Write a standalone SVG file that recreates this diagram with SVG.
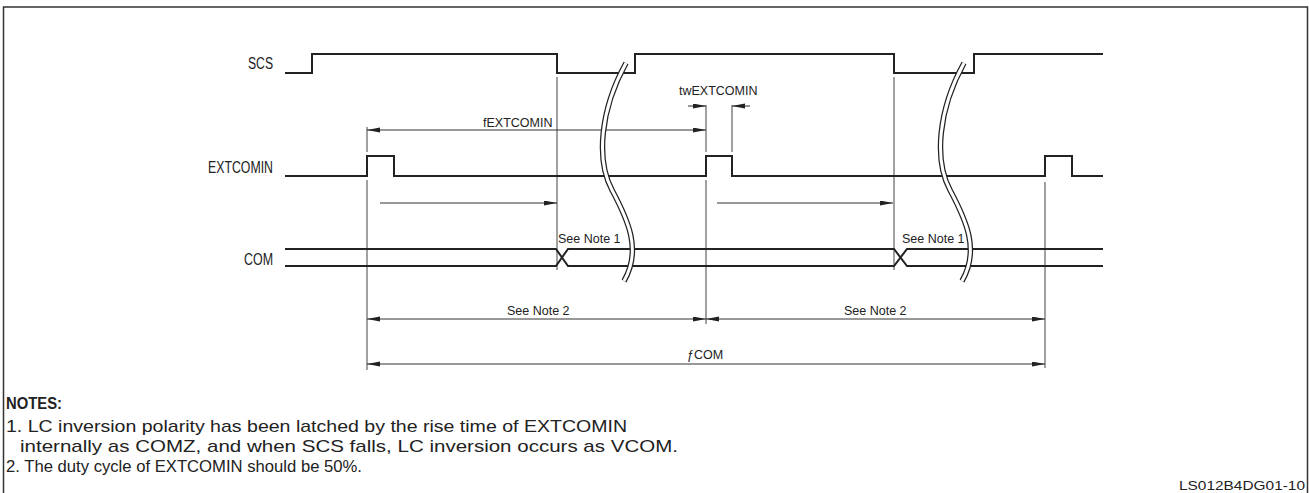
<svg xmlns="http://www.w3.org/2000/svg" width="1309" height="493" viewBox="0 0 1309 493">
<style>
text{font-family:"Liberation Sans",Arial,sans-serif;fill:#222}
.lbl{font-size:16px}
.sm{font-size:12.5px}
.note{font-size:17px}
.sig{fill:none;stroke:#222;stroke-width:2}
.ext{fill:none;stroke:#444;stroke-width:1}
.dim{fill:none;stroke:#333;stroke-width:1}
.brk1{fill:none;stroke:#222;stroke-width:5.5}
.brk2{fill:none;stroke:#fff;stroke-width:3}
</style>
<defs>
<marker id="ar" markerUnits="userSpaceOnUse" markerWidth="14" markerHeight="6" refX="13" refY="2.5" orient="auto-start-reverse">
<path d="M0,0 L13,2.5 L0,5 z" fill="#222"/>
</marker>
</defs>
<rect x="3.5" y="7" width="1304" height="495" fill="none" stroke="#333" stroke-width="1.5"/>

<g id="labels">
<text class="lbl" x="273" y="69" text-anchor="end" textLength="25" lengthAdjust="spacingAndGlyphs">SCS</text>
<text class="lbl" x="273" y="173" text-anchor="end" textLength="65" lengthAdjust="spacingAndGlyphs">EXTCOMIN</text>
<text class="lbl" x="273" y="265" text-anchor="end" textLength="29" lengthAdjust="spacingAndGlyphs">COM</text>
</g>

<g id="extension-lines">
<path class="ext" d="M367,127 V152 M367,180 V370"/>
<path class="ext" d="M557,77 V270"/>
<path class="ext" d="M706,105 V152 M706,180 V324"/>
<path class="ext" d="M732,105 V152"/>
<path class="ext" d="M894,77 V270"/>
<path class="ext" d="M1045,182 V368"/>
</g>

<g id="SCS">
<polyline class="sig" points="285,73 312,73 312,54 557,54 557,73 635,73 635,54 894,54 894,73 974,73 974,54 1103,54"/>
</g>
<g id="EXTCOMIN">
<polyline class="sig" points="285,176 367,176 367,156 394,156 394,176 706,176 706,156 732,156 732,176 1045,176 1045,156 1072,156 1072,176 1103,176"/>
</g>
<g id="COM">
<path class="sig" d="M285,249 H556 L568,266 H894 L907,249 H1103"/>
<path class="sig" d="M285,266 H556 L568,249 H894 L907,266 H1103"/>
</g>

<g id="connectors">
<line class="dim" x1="367" y1="130" x2="706" y2="130" marker-start="url(#ar)" marker-end="url(#ar)"/>
<line class="dim" x1="688" y1="106" x2="706" y2="106" marker-end="url(#ar)"/>
<line class="dim" x1="750" y1="106" x2="732" y2="106" marker-end="url(#ar)"/>
<line class="dim" x1="380" y1="203" x2="557" y2="203" marker-end="url(#ar)"/>
<line class="dim" x1="717" y1="203" x2="893" y2="203" marker-end="url(#ar)"/>
<line class="dim" x1="367" y1="319" x2="706" y2="319" marker-start="url(#ar)" marker-end="url(#ar)"/>
<line class="dim" x1="706" y1="319" x2="1045" y2="319" marker-start="url(#ar)" marker-end="url(#ar)"/>
<line class="dim" x1="367" y1="364" x2="1045" y2="364" marker-start="url(#ar)" marker-end="url(#ar)"/>
</g>

<g id="breaks">
<path class="brk1" d="M626,63 C600,110 596,160 612,190 S642,250 624,281"/>
<path class="brk2" d="M626,63 C600,110 596,160 612,190 S642,250 624,281"/>
<path class="brk1" d="M964,63 C938,110 934,160 950,190 S980,250 962,281"/>
<path class="brk2" d="M964,63 C938,110 934,160 950,190 S980,250 962,281"/>
</g>

<g id="dim-labels">
<text class="sm" x="483" y="127">fEXTCOMIN</text>
<text class="sm" x="679" y="95">twEXTCOMIN</text>
<text class="sm" x="558" y="243">See Note 1</text>
<text class="sm" x="902" y="243">See Note 1</text>
<text class="sm" x="507" y="315">See Note 2</text>
<text class="sm" x="844" y="315">See Note 2</text>
<text class="sm" x="687" y="359">ƒCOM</text>
</g>

<g id="notes">
<text class="note" x="6" y="409" font-weight="bold" textLength="56" lengthAdjust="spacingAndGlyphs">NOTES:</text>
<text class="note" x="6" y="432" textLength="621" lengthAdjust="spacingAndGlyphs">1. LC inversion polarity has been latched by the rise time of EXTCOMIN</text>
<text class="note" x="20" y="452" textLength="658" lengthAdjust="spacingAndGlyphs">internally as COMZ, and when SCS falls, LC inversion occurs as VCOM.</text>
<text class="note" x="6" y="472" textLength="356" lengthAdjust="spacingAndGlyphs">2. The duty cycle of EXTCOMIN should be 50%.</text>
<text class="sm" x="1305" y="490" text-anchor="end" textLength="126" lengthAdjust="spacingAndGlyphs">LS012B4DG01-10</text>
</g>
</svg>
